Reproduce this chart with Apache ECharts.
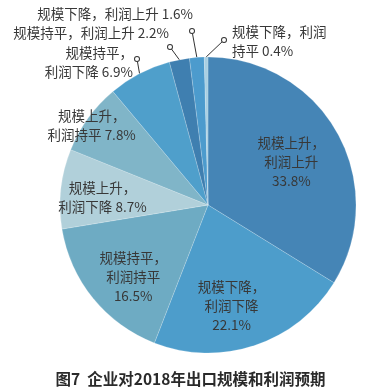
<!DOCTYPE html>
<html><head><meta charset="utf-8">
<script src="https://cdn.jsdelivr.net/npm/echarts@6/dist/echarts.min.js"></script>
<style>html,body{margin:0;padding:0;background:#fff;}#c{width:381px;height:392px;}</style>
</head><body><div id="c"></div>
<script>
const categories = ['规模上升，\n利润上升', '规模下降，\n利润下降', '规模持平，\n利润持平', '规模上升，\n利润下降', '规模上升，\n利润持平', '规模持平，\n利润下降', '规模持平，利润上升', '规模下降，利润上升', '规模下降，利润\n持平'];
const values = [33.8, 22.1, 16.5, 8.7, 7.8, 6.9, 2.2, 1.6, 0.4];
const colors = ['#4585b6', '#4d9dcb', '#6eabc3', '#b1d0da', '#80b5c8', '#4f9fcb', '#3f7fb0', '#4c9bcd', '#a8cfe2'];
const title = '图7  企业对2018年出口规模和利润预期';

const fmt = [
  v => categories[0] + '\n' + v + '%',
  v => categories[1] + '\n' + v + '%',
  v => categories[2] + '\n' + v + '%',
  v => categories[3] + ' ' + v + '%',
  v => categories[4] + ' ' + v + '%',
  v => categories[5] + ' ' + v + '%',
  v => categories[6] + ' ' + v + '%',
  v => categories[7] + ' ' + v + '%',
  v => categories[8] + ' ' + v + '%'
];
const inside = [true, true, true, true, true, false, false, false, false];

const data = values.map((v, i) => ({
  value: v,
  name: categories[i],
  itemStyle: { color: colors[i] },
  label: {
    position: inside[i] ? 'inside' : 'outside',
    formatter: () => fmt[i](v),
    align: i === 8 ? 'left' : (i === 5 ? 'right' : 'center')
  },
  labelLine: { show: false }
}));

const markerData = values.map((v, i) => ({
  value: v,
  name: categories[i],
  itemStyle: { color: '#ffffff' },
  label: { show: !inside[i] },
  labelLine: { show: !inside[i] }
}));

const layouts = [
  { dx: 16, dy: -6 },
  { dx: -1, dy: 28 },
  { dx: -15, dy: 23 },
  { dx: -29, dy: 1 },
  { dx: -54, dy: -34 },
  { x: 133, y: 62, align: 'right', verticalAlign: 'middle' },
  { x: 91, y: 33, align: 'center', verticalAlign: 'middle' },
  { x: 115, y: 14, align: 'center', verticalAlign: 'middle' },
  { x: 232, y: 41, align: 'left', verticalAlign: 'middle' }
];
const markerPos = [null, null, null, null, null,
  [137, 59], [170, 47], [192, 31], [224, 40]];

function markerLayout(p) {
  const m = markerPos[p.dataIndex];
  if (!m) return {};
  const out = { x: m[0], y: m[1], align: 'center', verticalAlign: 'middle' };
  if (p.labelLinePoints && p.labelLinePoints.length) {
    const s = p.labelLinePoints[0];
    const dx = m[0] - s[0], dy = m[1] - s[1];
    const d = Math.sqrt(dx * dx + dy * dy) || 1;
    const e = [m[0] - dx / d * 2.5, m[1] - dy / d * 2.5];
    out.labelLinePoints = [s, e, e];
  }
  return out;
}

const chart = echarts.init(document.getElementById('c'));
chart.setOption({
  backgroundColor: '#fff',
  animation: false,
  title: {
    text: title, left: 'center', top: 366,
    textStyle: { fontSize: 15.5, fontWeight: 'bold', color: '#2a2a2a', fontFamily: 'Noto Sans CJK SC' }
  },
  series: [{
    type: 'pie',
    center: [208, 205],
    radius: [0, 148],
    startAngle: 90,
    clockwise: true,
    avoidLabelOverlap: false,
    silent: true,
    z: 1,
    data: markerData,
    label: {
      position: 'outside',
      formatter: '{c|}',
      rich: { c: { width: 4, height: 4, borderColor: '#333', borderWidth: 1, borderRadius: 3, backgroundColor: '#fff' } }
    },
    labelLine: { lineStyle: { color: '#333', width: 1, opacity: 1 }, length: 8, length2: 4 },
    labelLayout: markerLayout
  }, {
    type: 'pie',
    center: [208, 205],
    radius: [0, 148],
    startAngle: 90,
    clockwise: true,
    avoidLabelOverlap: false,
    data: data,
    z: 2,
    itemStyle: { borderColor: 'rgba(255,255,255,0.3)', borderWidth: 0.6 },
    label: {
      color: '#383838', fontSize: 13.5, lineHeight: 19,
      fontFamily: 'Noto Sans CJK SC'
    },
    labelLayout: p => layouts[p.dataIndex]
  }]
});
</script></body></html>
